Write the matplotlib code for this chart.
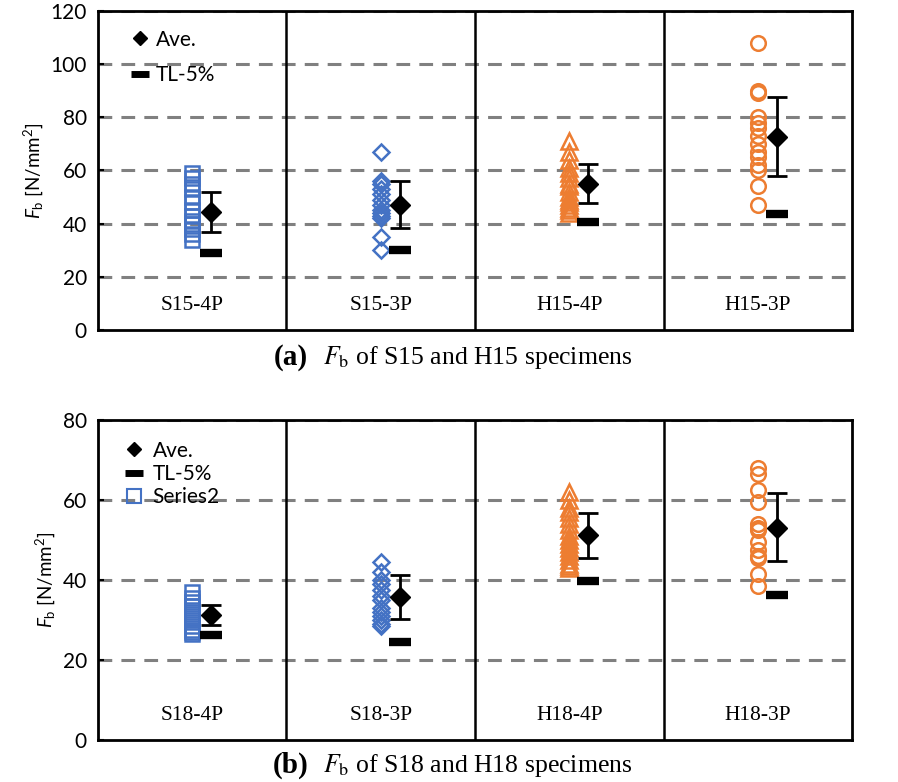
import numpy as np
import matplotlib
matplotlib.use("Agg")
import matplotlib.pyplot as plt
from matplotlib.lines import Line2D

plt.rcParams['font.family'] = ['Lato', 'DejaVu Sans']
plt.rcParams['mathtext.fontset'] = 'custom'
plt.rcParams['mathtext.rm'] = 'Lato'
plt.rcParams['mathtext.it'] = 'Lato:italic'

BLUE = '#4472C4'
ORANGE = '#ED7D31'
GRID = '#808080'

# ---- panel (a) data : S15 / H15 ----
groups_a = ['S15-4P', 'S15-3P', 'H15-4P', 'H15-3P']
s15_4p = [59, 57, 55, 53, 50, 48, 45, 43, 41, 40, 38, 36, 34]
s15_3p = [67, 56, 55, 53, 51, 49, 47, 45, 44, 43, 42, 35, 30]
h15_4p = [71, 67, 64, 61, 59, 57, 55, 54, 52, 50, 49, 48, 47, 46, 45, 44]
h15_3p = [108, 90, 89, 80, 78, 76, 73, 70, 67, 65, 62, 60, 54, 47]
ave_a = [44.2, 47.2, 55.0, 72.7]
err_lo_a = [37.0, 38.5, 47.6, 57.9]
err_hi_a = [52.0, 56.0, 62.5, 87.5]
tl_a = [29.0, 30.0, 40.5, 43.5]

# ---- panel (b) data : S18 / H18 ----
groups_b = ['S18-4P', 'S18-3P', 'H18-4P', 'H18-3P']
s18_4p = [37, 35.5, 34.5, 33.5, 32.5, 31.5, 30.5, 29.5, 28.5, 27.5, 27, 26.5]
s18_3p = [44.5, 42, 40, 39, 37.5, 36, 35, 33, 32, 31, 30, 29, 28.5]
h18_4p = [62, 60, 58, 57, 55.5, 54, 52.5, 51, 50, 49, 48, 47, 46, 45, 44, 43.5, 43]
h18_3p = [68, 66.5, 62.5, 59.5, 54, 53, 52.5, 49.5, 47.5, 46, 45.5, 41.5, 38.5]
ave_b = [31.2, 35.7, 51.3, 53.0]
err_lo_b = [28.7, 30.2, 45.4, 44.6]
err_hi_b = [33.8, 41.2, 56.8, 61.7]
tl_b = [26.3, 24.5, 39.8, 36.1]

styles = [('s', BLUE, 9.5), ('D', BLUE, 8.5), ('^', ORANGE, 11.5), ('o', ORANGE, 10.5)]


def draw_panel(ax, groups, series, ave, lo, hi, tl, ymax, legend_items):
    for y in np.arange(20, ymax + 1, 20):
        ax.axhline(y, color=GRID, lw=2.2, ls=(0, (4.5, 3)), zorder=0)
    for i in range(1, 4):
        ax.axvline(i, color='black', lw=1.8, zorder=1)
    for i, vals in enumerate(series):
        m, c, ms = styles[i]
        ax.plot([i + 0.5] * len(vals), vals, ls='none', marker=m, ms=ms,
                mfc='none', mec=c, mew=1.8, zorder=3)
    xs = np.arange(4) + 0.6
    ave = np.array(ave)
    ax.errorbar(xs, ave, yerr=[ave - np.array(lo), np.array(hi) - ave],
                fmt='D', color='black', ms=10, elinewidth=2, capsize=7,
                capthick=2, zorder=4)
    ax.plot(xs, tl, ls='none', marker='_', ms=16, mew=6, color='black', zorder=4)
    for i, g in enumerate(groups):
        ax.text(i + 0.5, ymax * 0.077, g, ha='center', va='center',
                fontsize=15.5, family='Liberation Serif')
    ax.set_xlim(0, 4)
    ax.set_ylim(0, ymax)
    ax.set_xticks([])
    ax.set_yticks(np.arange(0, ymax + 1, 20))
    ax.tick_params(axis='y', direction='in', length=4, width=1.5, labelsize=15, pad=8)
    for s in ax.spines.values():
        s.set_linewidth(2)
    ax.set_ylabel(r'$F_{\rm b}$ [N/mm$^{2}$]', fontsize=13.5, labelpad=4)
    handles = [Line2D([], [], ls='none', marker='D', color='black', ms=7.5),
               Line2D([], [], ls='none', marker='_', color='black', ms=13, mew=5)]
    labels = ['Ave.', 'TL-5%']
    if legend_items == 3:
        handles.append(Line2D([], [], ls='none', marker='s', mfc='none', mec=BLUE, ms=10.5, mew=1.5))
        labels.append('Series2')
        sp, pad, tp, anchor = 0.15, 0.4, 0.45, (0.024, 0.961)
    else:
        sp, pad, tp, anchor = 0.75, 0.1, 0.3, (0.041, 0.948)
    ax.legend(handles, labels, loc='upper left', bbox_to_anchor=anchor,
              frameon=False, fontsize=15, handlelength=0.9, handletextpad=tp,
              labelspacing=sp, borderaxespad=0, borderpad=pad)


fig = plt.figure(figsize=(8.98, 7.82), dpi=100)
ax_a = fig.add_axes([0.109, 0.578, 0.840, 0.408])
ax_b = fig.add_axes([0.109, 0.054, 0.840, 0.409])

draw_panel(ax_a, groups_a, [s15_4p, s15_3p, h15_4p, h15_3p],
           ave_a, err_lo_a, err_hi_a, tl_a, 120, 2)
draw_panel(ax_b, groups_b, [s18_4p, s18_3p, h18_4p, h18_3p],
           ave_b, err_lo_b, err_hi_b, tl_b, 80, 3)

for y, lab, rest in [(0.543, '(a)', r'$F_{\rm b}$ of S15 and H15 specimens'),
                     (0.021, '(b)', r'$F_{\rm b}$ of S18 and H18 specimens')]:
    fig.text(0.343, y, lab, ha='right', va='center', fontsize=21,
             fontweight='bold', family='Liberation Serif')
    fig.text(0.360, y, rest, ha='left', va='center', fontsize=18.5,
             family='Liberation Serif', math_fontfamily='stix')

fig.savefig('out.png', dpi=100)
